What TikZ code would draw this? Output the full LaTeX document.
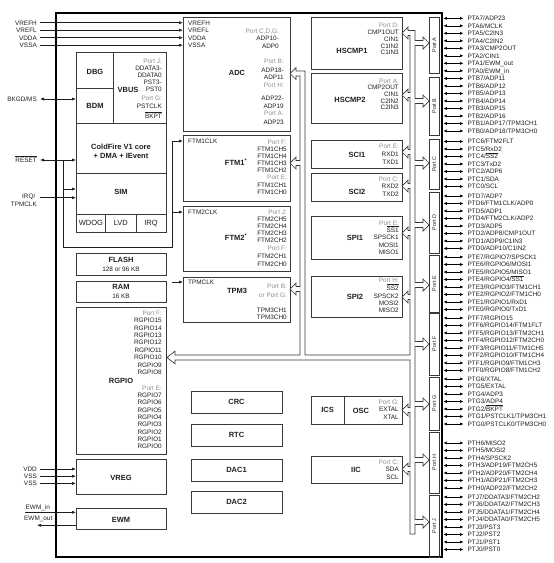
\documentclass[tikz,border=0pt]{standalone}
\usepackage{fontspec}
\setmainfont{Liberation Sans}
\usetikzlibrary{positioning, arrows.meta, fit}

\definecolor{ink}{HTML}{1E1E1E}
\definecolor{portgray}{HTML}{8C8C8C}
\definecolor{boxc}{HTML}{3A3A3A}

\newcommand\ovl[1]{\ensuremath{\overline{\mbox{#1}}}}
\newcommand\prt[1]{\textcolor{portgray}{#1}}

% hollow bus arrow: tip x, y, bus x, direction (1 = right, -1 = left)
\newcommand\busarrow[4]{%
  \pgfmathsetmacro\hx{#1-6*#4}%
  \pgfmathsetmacro\bx{#3-0.6*#4}%
  \fill[white] (#1,#2) -- (\hx,#2-6) -- (\hx,#2-2.5) -- (\bx,#2-2.5)
    -- (\bx,#2+2.5) -- (\hx,#2+2.5) -- (\hx,#2+6) -- cycle;
  \draw[bus] (#3,#2-2.5) -- (\hx,#2-2.5) -- (\hx,#2-6) -- (#1,#2)
    -- (\hx,#2+6) -- (\hx,#2+2.5) -- (#3,#2+2.5);
}

% one port's pins: name prefix, first y, labels
\newcommand\pinrow[3]{%
  \foreach \t [count=\i from 0] in {#3}{
    \node[pinlbl] (#1\i) at (467.5,#2+7.5*\i) {\t};
    \draw[pinarr] ([xshift=1.4pt]chip.east |- #1\i) -- ([xshift=-4pt]#1\i.west);
  }}

\begin{document}
\begin{tikzpicture}[x=1pt, y=-1pt,
    chipbox/.style={draw=black, line width=2.4pt, inner sep=0pt, outer sep=0pt},
    blk/.style={draw=boxc, line width=0.8pt, inner sep=0pt, outer sep=0pt},
    portbox/.style={draw=boxc, line width=0.7pt, inner sep=0pt, outer sep=0pt},
    ttl/.style={font=\fontsize{7.5}{8}\selectfont\bfseries, text=ink, inner sep=0pt, text height=5.4pt, text depth=0pt},
    txt/.style={font=\fontsize{6.4}{7}\selectfont, text=ink, inner sep=0pt, text height=4.6pt, text depth=0pt},
    big/.style={font=\fontsize{7.5}{8}\selectfont, text=ink, inner sep=0pt, text height=5.4pt, text depth=0pt},
    rtxt/.style={txt, anchor=east},
    ltxt/.style={txt, anchor=west},
    pinlbl/.style={txt, anchor=west},
    portlbl/.style={font=\fontsize{5.4}{6}\selectfont, text=ink, inner sep=0pt, rotate=90},
    sig/.style={-{Latex[length=4pt,width=3.2pt]}, line width=0.7pt, draw=ink},
    sigboth/.style={{Latex[length=4pt,width=3.2pt]}-{Latex[length=4pt,width=3.2pt]}, line width=0.7pt, draw=ink},
    wire/.style={line width=0.7pt, draw=ink},
    bus/.style={line width=0.7pt, draw=boxc},
    pinarr/.style={{Latex[length=3.4pt,width=3pt]}-{Latex[length=3.4pt,width=3pt]}, line width=0.6pt, draw=black}]

\useasboundingbox (0,0) rectangle (554,563);

% Chip
\node[chipbox, fit={(56,13) (442,557)}] (chip) {};

% Debug and core
\node[blk, fit={(76,52) (113,88)}] (dbg) {};
\node[ttl] (dbg-t) at (95,71.5) {DBG};
\node[blk, fit={(76,88) (113,123)}] (bdm) {};
\node[ttl] (bdm-t) at (95,106) {BDM};
\node[blk, fit={(113,52) (166,123)}] (vbus) {};
\node[ttl] (vbus-t) at (128,89.5) {VBUS};
\foreach \y/\t [count=\i] in {61/\prt{Port J:}, 68/DDATA3-, 75/DDATA0, 82/PST3-, 89.5/PST0,
    98/\prt{Port G:}, 106.5/PSTCLK, 116/\ovl{BKPT}}
  \node[rtxt] (vbus-\i) at (162,\y) {\t};
\node[blk, fit={(76,123) (166,173)}] (core) {};
\node[ttl] (core-a) at (121,147) {ColdFire V1 core};
\node[ttl] (core-b) at (121,156) {+ DMA + IEvent};
\node[blk, fit={(76,173) (166,214)}] (sim) {};
\node[ttl] (sim-t) at (121,192) {SIM};
\node[blk, fit={(76,214) (105.7,232)}] (wdog) {};
\node[big] (wdog-t) at (wdog) {WDOG};
\node[blk, fit={(105.7,214) (136,232)}] (lvd) {};
\node[big] (lvd-t) at (lvd) {LVD};
\node[blk, fit={(136,214) (166,232)}] (irq) {};
\node[big] (irq-t) at (irq) {IRQ};

% Memories
\node[blk, fit={(76,253) (166,275)}] (flash) {};
\node[ttl] (flash-t) at (121,260) {FLASH};
\node[txt] (flash-s) at (121,269) {128 or 96 KB};
\node[blk, fit={(76,281) (166,302)}] (ram) {};
\node[ttl] (ram-t) at (121,287) {RAM};
\node[txt] (ram-s) at (121,296) {16 KB};

% RGPIO
\node[blk, fit={(76,307) (166,454)}] (rgpio) {};
\node[ttl] (rgpio-t) at (121,381) {RGPIO};
\node[rtxt] (rgpio-f) at (162,313) {\prt{Port F:}};
\foreach \n [count=\i from 0] in {15,14,13,12,11,10,9,8}
  \node[rtxt] (rgpio-h\i) at (162,320.5+7.37*\i) {RGPIO\n};
\node[rtxt] (rgpio-e) at (162,388) {\prt{Port E:}};
\foreach \n [count=\i from 0] in {7,6,5,4,3,2,1,0}
  \node[rtxt] (rgpio-l\i) at (162,395+7.37*\i) {RGPIO\n};

% Supply and watchdog
\node[blk, fit={(76,459) (166,494)}] (vreg) {};
\node[ttl] (vreg-t) at (121,478) {VREG};
\node[blk, fit={(76,508) (166,529)}] (ewm) {};
\node[ttl] (ewm-t) at (121,520) {EWM};

% ADC and timers
\node[blk, fit={(183,17) (290,131)}] (adc) {};
\node[ttl] (adc-t) at (237,73) {ADC};
\foreach \t [count=\i from 0] in {VREFH, VREFL, VDDA, VSSA}
  \node[ltxt] (adc-in\i) at (188,22.7+7.5*\i) {\t};
\foreach \y/\t [count=\i] in {31/\prt{Port C,D,G:}, 38/ADP10-, 46/ADP0}
  \node[rtxt] (adc-a\i) at (279,\y) {\t};
\foreach \y/\t [count=\i] in {61/\prt{Port B:}, 70/ADP18-, 77/ADP11, 85/\prt{Port H:},
    98/ADP22-, 106.5/ADP19, 113.5/\prt{Port A:}, 122/ADP23}
  \node[rtxt] (adc-b\i) at (284,\y) {\t};

\node[blk, fit={(183,135) (290,201)}] (ftm1) {};
\node[ttl] (ftm1-t) at (236,163) {FTM1\textsuperscript{*}};
\node[ltxt] (ftm1clk) at (188,141) {FTM1CLK};
\foreach \y/\t [count=\i] in {142/\prt{Port F:}, 149/FTM1CH5, 156/FTM1CH4, 163/FTM1CH3,
    170/FTM1CH2, 177/\prt{Port E:}, 185/FTM1CH1, 192.5/FTM1CH0}
  \node[rtxt] (ftm1-\i) at (287,\y) {\t};

\node[blk, fit={(183,206) (290,271)}] (ftm2) {};
\node[ttl] (ftm2-t) at (236,238) {FTM2\textsuperscript{*}};
\node[ltxt] (ftm2clk) at (188,212) {FTM2CLK};
\foreach \y/\t [count=\i] in {212/\prt{Port J:}, 219/FTM2CH5, 226/FTM2CH4, 233/FTM2CH3,
    240/FTM2CH2, 248/\prt{Port F:}, 256/FTM2CH1, 264/FTM2CH0}
  \node[rtxt] (ftm2-\i) at (287,\y) {\t};

\node[blk, fit={(183,277) (290,322)}] (tpm3) {};
\node[ttl] (tpm3-t) at (237,291) {TPM3};
\node[ltxt] (tpmclk) at (188,282) {TPMCLK};
\foreach \y/\t [count=\i] in {286/\prt{Port B:}, 295/\prt{or Port G:}, 310/TPM3CH1, 317/TPM3CH0}
  \node[rtxt] (tpm3-\i) at (287,\y) {\t};

% Misc blocks
\node[blk, fit={(191,391) (282,413)}] (crc) {};
\node[ttl] (crc-t) at (crc) {CRC};
\node[blk, fit={(191,424) (282,446)}] (rtc) {};
\node[ttl] (rtc-t) at (rtc) {RTC};
\node[blk, fit={(191,459) (282,481)}] (dac1) {};
\node[ttl] (dac1-t) at (dac1) {DAC1};
\node[blk, fit={(191,491) (282,513)}] (dac2) {};
\node[ttl] (dac2-t) at (dac2) {DAC2};

% Serial and compare peripherals
\node[blk, fit={(311,17) (402,69)}] (hscmp1) {};
\node[ttl] (hscmp1-t) at (352,51) {HSCMP1};
\foreach \y/\t [count=\i] in {25/\prt{Port D:}, 32/CMP1OUT, 39/CIN1, 46/C1IN2, 52.5/C1IN3}
  \node[rtxt] (hscmp1-\i) at (399,\y) {\t};
\node[blk, fit={(311,73) (402,123)}] (hscmp2) {};
\node[ttl] (hscmp2-t) at (350,100) {HSCMP2};
\foreach \y/\t [count=\i] in {81/\prt{Port A:}, 87.5/CMP2OUT, 94/CIN1, 101/C2IN2, 107.5/C2IN3}
  \node[rtxt] (hscmp2-\i) at (399,\y) {\t};
\node[blk, fit={(311,140) (402,168)}] (sci1) {};
\node[ttl] (sci1-t) at (357,155) {SCI1};
\foreach \y/\t [count=\i] in {146/\prt{Port E:}, 154/RXD1, 162/TXD1}
  \node[rtxt] (sci1-\i) at (399,\y) {\t};
\node[blk, fit={(311,173) (402,201)}] (sci2) {};
\node[ttl] (sci2-t) at (357,192) {SCI2};
\foreach \y/\t [count=\i] in {179/\prt{Port C:}, 186.5/RXD2, 194/TXD2}
  \node[rtxt] (sci2-\i) at (399,\y) {\t};
\node[blk, fit={(311,216) (402,259)}] (spi1) {};
\node[ttl] (spi1-t) at (355,238) {SPI1};
\foreach \y/\t [count=\i] in {223/\prt{Port E:}, 230/\ovl{SS1}, 237.5/SPSCK1, 245/MOSI1, 252/MISO1}
  \node[rtxt] (spi1-\i) at (399,\y) {\t};
\node[blk, fit={(311,276) (402,317)}] (spi2) {};
\node[ttl] (spi2-t) at (355,297) {SPI2};
\foreach \y/\t [count=\i] in {280/\prt{Port H:}, 288/\ovl{SS2}, 296/SPSCK2, 303/MOSI2, 310/MISO2}
  \node[rtxt] (spi2-\i) at (399,\y) {\t};
\node[blk, fit={(311,396) (344,424)}] (ics) {};
\node[ttl] (ics-t) at (ics) {ICS};
\node[blk, fit={(344,396) (402,424)}] (osc) {};
\node[ttl] (osc-t) at (361,411) {OSC};
\foreach \y/\t [count=\i] in {402/\prt{Port G:}, 409.5/EXTAL, 417/XTAL}
  \node[rtxt] (osc-\i) at (399,\y) {\t};
\node[blk, fit={(311,456) (402,483)}] (iic) {};
\node[ttl] (iic-t) at (356,470) {IIC};
\foreach \y/\t [count=\i] in {462/\prt{Port C:}, 469.5/SDA, 477/SCL}
  \node[rtxt] (iic-\i) at (399,\y) {\t};

% Port boxes
\foreach \n/\a/\b in {A/17/73, B/77/135, C/139/189, D/192/253, E/255/312,
    F/313/375, G/377/430, H/432/493, J/495/557}{
  \node[portbox, fit={(429,\a) (439.5,\b)}] (port\n) {};
  \node[portlbl] (port\n-t) at (port\n) {Port \n};
}

% Internal bus
\draw[bus] (167,357.5) -- (175,351.2) -- (175,355) -- (300,355) -- (300,71)
  -- (305,71) -- (305,355) -- (410,355) -- (410,30.5) -- (415,30.5)
  -- (415,534) -- (410,534) -- (410,360) -- (175,360) -- (175,363.8) -- cycle;
\busarrow{290}{73.5}{300}{-1}
\busarrow{290}{163}{300}{-1}
\busarrow{290}{289}{300}{-1}
\foreach \y in {33,95,152,186,233,297,410,469}{
  \busarrow{402}{\y}{410}{-1}
}
\foreach \y in {43,101,163,225,285,344,404,460,522}{
  \busarrow{429}{\y}{415}{1}
}

% Analog reference inputs
\foreach \t/\n [count=\i from 0] in {VREFH/vrefh, VREFL/vrefl, VDDA/vdda, VSSA/vssa}{
  \node[rtxt] (\n) at (37,22.7+7.5*\i) {\t};
  \draw[sig] ([xshift=3pt]\n.east) -- (\n -| adc.west);
}

% Debug, reset and interrupt
\node[rtxt] (bkgd) at (37,99) {BKGD/MS};
\draw[sigboth] ([xshift=3pt]bkgd.east) -- (bkgd -| bdm.west);
\node[rtxt] (reset) at (37,160) {\ovl{RESET}};
\draw[sigboth] ([xshift=3pt]reset.east) -- (reset -| core.west);
\node[rtxt] (irqa) at (35.5,195.7) {IRQ/};
\node[rtxt] (irqb) at (37,204.3) {TPMCLK};
\coordinate (irqin) at (40,197.7);
\draw[sig] (irqin) -- (irqin -| sim.west);

% Clock lines to timers
\coordinate (rstj) at (63,160);
\coordinate (simin) at (63,189);
\coordinate (clkj) at (172,247);
\draw[wire] (rstj) |- (clkj) -- (clkj |- ftm1clk);
\draw[sig] (simin) -- (simin -| sim.west);
\draw[sig] (clkj |- ftm1clk) -- (ftm1clk -| ftm1.west);
\draw[sig] (clkj |- ftm2clk) -- (ftm2clk -| ftm2.west);
\draw[sig] (clkj |- tpmclk) -- (tpmclk -| tpm3.west);

% Supplies
\foreach \t/\n [count=\i from 0] in {VDD/vdd, VSS/vssa1, VSS/vssb1}{
  \node[rtxt] (\n) at (37,469+7.2*\i) {\t};
  \draw[sig] ([xshift=3pt]\n.east) -- (\n -| vreg.west);
}

% Watchdog pins
\node[ltxt] (ewmin) at (25.5,506.7) {EWM\_in};
\node[ltxt] (ewmout) at (24,518.3) {EWM\_out};
\coordinate (ewmi) at (25,512.3);
\coordinate (ewmo) at (37,525.3);
\draw[sig] (ewmi) -- (ewmi -| ewm.west);
\draw[sig] (ewmo -| ewm.west) -- (ewmo);

% Pins
\pinrow{pa}{18.3}{PTA7/ADP23, PTA6/MCLK, PTA5/C2IN3, PTA4/C2IN2, PTA3/CMP2OUT,
  PTA2/CIN1, PTA1/EWM\_out, PTA0/EWM\_in}
\pinrow{pb}{78.5}{PTB7/ADP11, PTB6/ADP12, PTB5/ADP13, PTB4/ADP14, PTB3/ADP15,
  PTB2/ADP16, PTB1/ADP17/TPM3CH1, PTB0/ADP18/TPM3CH0}
\pinrow{pc}{141.5}{PTC6/FTM2FLT, PTC5/RxD2, PTC4/\ovl{SS2}, PTC3/TxD2, PTC2/ADP6,
  PTC1/SDA, PTC0/SCL}
\pinrow{pd}{196}{PTD7/ADP7, PTD6/FTM1CLK/ADP0, PTD5/ADP1, PTD4/FTM2CLK/ADP2, PTD3/ADP5,
  PTD2/ADP8/CMP1OUT, PTD1/ADP9/C1IN3, PTD0/ADP10/C1IN2}
\pinrow{pe}{257}{PTE7/RGPIO7/SPSCK1, PTE6/RGPIO6/MOSI1, PTE5/RGPIO5/MISO1,
  PTE4/RGPIO4/\ovl{SS1}, PTE3/RGPIO3/FTM1CH1, PTE2/RGPIO2/FTM1CH0,
  PTE1/RGPIO1/RxD1, PTE0/RGPIO0/TxD1}
\pinrow{pf}{318}{PTF7/RGPIO15, PTF6/RGPIO14/FTM1FLT, PTF5/RGPIO13/FTM2CH1,
  PTF4/RGPIO12/FTM2CH0, PTF3/RGPIO11/FTM1CH5, PTF2/RGPIO10/FTM1CH4,
  PTF1/RGPIO9/FTM1CH3, PTF0/RGPIO8/FTM1CH2}
\pinrow{pg}{379}{PTG6/XTAL, PTG5/EXTAL, PTG4/ADP3, PTG3/ADP4, PTG2/\ovl{BKPT},
  PTG1/PSTCLK1/TPM3CH1, PTG0/PSTCLK0/TPM3CH0}
\pinrow{ph}{443}{PTH6/MISO2, PTH5/MOSI2, PTH4/SPSCK2, PTH3/ADP19/FTM2CH5,
  PTH2/ADP20/FTM2CH4, PTH1/ADP21/FTM2CH3, PTH0/ADP22/FTM2CH2}
\pinrow{pj}{497}{PTJ7/DDATA3/FTM2CH2, PTJ6/DDATA2/FTM2CH3, PTJ5/DDATA1/FTM2CH4,
  PTJ4/DDATA0/FTM2CH5, PTJ3/PST3, PTJ2/PST2, PTJ1/PST1, PTJ0/PST0}

\end{tikzpicture}
\end{document}
